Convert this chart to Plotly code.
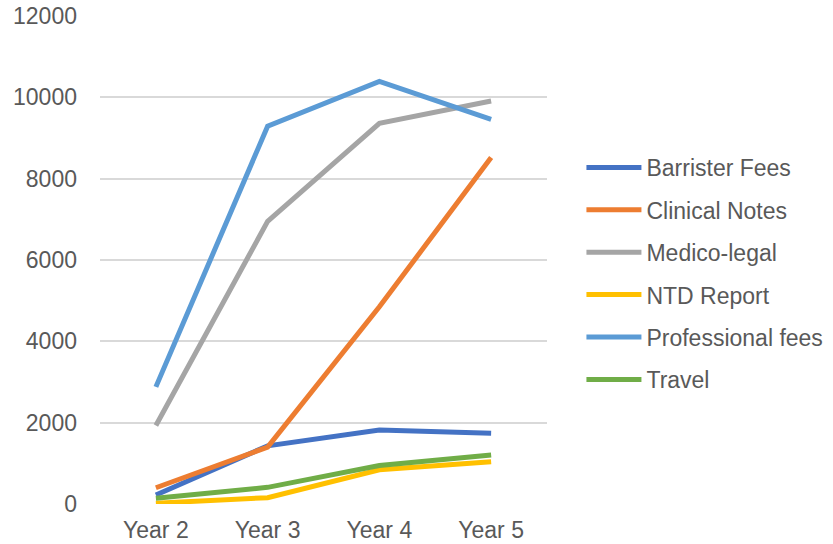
import plotly.graph_objects as go

years = ["Year 2", "Year 3", "Year 4", "Year 5"]

barrister_fees = [220, 1430, 1820, 1740]
clinical_notes = [400, 1400, 4850, 8520]
medico_legal = [1930, 6950, 9360, 9910]
ntd_report = [20, 155, 840, 1040]
professional_fees = [2880, 9290, 10390, 9460]
travel = [140, 410, 945, 1205]

series = [
    ("Barrister Fees", barrister_fees, "#4472C4"),
    ("Clinical Notes", clinical_notes, "#ED7D31"),
    ("Medico-legal", medico_legal, "#A5A5A5"),
    ("NTD Report", ntd_report, "#FFC000"),
    ("Professional fees", professional_fees, "#5B9BD5"),
    ("Travel", travel, "#70AD47"),
]

fig = go.Figure()
for name, vals, color in series:
    fig.add_trace(go.Scatter(
        x=years, y=vals, name=name, mode="lines",
        line=dict(color=color, width=5),
        legendgroup=name,
    ))

text_font = dict(family="Liberation Sans, Arial, sans-serif", size=23, color="#595959")

fig.update_layout(
    width=833, height=544,
    margin=dict(l=100, r=286, t=16, b=40, autoexpand=False),
    paper_bgcolor="white", plot_bgcolor="white",
    font=text_font,
    xaxis=dict(
        range=[-0.5, 3.5], showgrid=False, zeroline=False, automargin=False,
        showline=False, ticks="", ticklabelstandoff=10, tickfont=text_font,
    ),
    yaxis=dict(
        range=[0, 12000], dtick=2000, showgrid=True, gridcolor="#D9D9D9",
        gridwidth=1.5, zeroline=False, showline=False, ticks="", automargin=False,
        ticklabelstandoff=22, tickformat="d", tickfont=text_font,
    ),
    legend=dict(
        xref="container", yref="container",
        x=0.698, xanchor="left", y=0.4973, yanchor="middle",
        font=text_font,
        traceorder="grouped", tracegroupgap=9.5, itemwidth=55,
        bgcolor="rgba(0,0,0,0)",
    ),
    showlegend=True,
)

fig.write_html("out.html")
